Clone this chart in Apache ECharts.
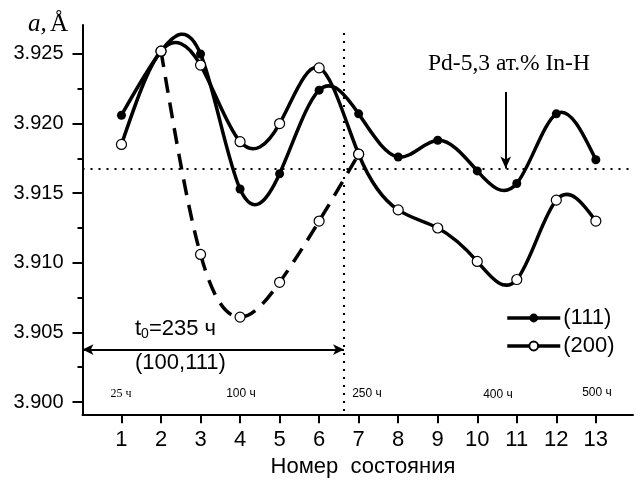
<!DOCTYPE html>
<html><head><meta charset="utf-8">
<script src="https://cdn.jsdelivr.net/npm/echarts@6/dist/echarts.min.js"></script>
<style>html,body{margin:0;padding:0;background:#fff}#c{width:641px;height:484px}</style>
</head><body><div id="c"></div>
<script>
// ---- data ----
const states = [1,2,3,4,5,6,7,8,9,10,11,12,13];
const a111 = [3.9206,3.9252,3.9250,3.9153,3.9164,3.9224,3.9207,3.9176,3.9188,3.9166,3.9157,3.9207,3.9174];
const a200 = [3.9185,3.9252,3.9242,3.9187,3.9200,3.9240,3.9178,3.9138,3.9125,3.9101,3.9088,3.9145,3.9130];
const dashStates = [2,3,4,5,6,7];
const a200dash = [3.9252,3.9106,3.9061,3.9086,3.9130,3.9178];
const yMajor = [3.900,3.905,3.910,3.915,3.920,3.925];
const yMinor = [3.9025,3.9075,3.9125,3.9175,3.9225];
const timeLabels = ['25 ч','100 ч','250 ч','400 ч','500 ч'];
const refLevel = 3.91677;   // horizontal dotted line
const t0State = 6.63;       // vertical dotted line
const arrowLevel = 3.90377; // t0 arrow
const markerState = 10.72;  // Pd arrow
const X_MIN = 0.014, X_MAX = 13.94, Y_MIN = 3.89912, Y_MAX = 3.92708;

const pairs = (xs, ys) => xs.map((x, i) => [x, ys[i]]);

// natural cubic spline through the data points, returned as Bezier segments (data space)
function splineSegments(xs, ys) {
  const n = xs.length;
  const h = [], M = new Array(n).fill(0);
  for (let i = 0; i < n - 1; i++) h.push(xs[i + 1] - xs[i]);
  if (n > 2) {
    const a = [], b = [], c = [], d = [];
    for (let i = 1; i < n - 1; i++) {
      a.push(h[i - 1]); b.push(2 * (h[i - 1] + h[i])); c.push(h[i]);
      d.push(6 * ((ys[i + 1] - ys[i]) / h[i] - (ys[i] - ys[i - 1]) / h[i - 1]));
    }
    const m = b.length;
    for (let i = 1; i < m; i++) {
      const w = a[i] / b[i - 1];
      b[i] -= w * c[i - 1]; d[i] -= w * d[i - 1];
    }
    const sol = new Array(m);
    sol[m - 1] = d[m - 1] / b[m - 1];
    for (let i = m - 2; i >= 0; i--) sol[i] = (d[i] - c[i] * sol[i + 1]) / b[i];
    for (let i = 0; i < m; i++) M[i + 1] = sol[i];
  }
  const segs = [];
  for (let i = 0; i < n - 1; i++) {
    const hh = h[i], s = (ys[i + 1] - ys[i]) / hh;
    const d0 = s - hh * (2 * M[i] + M[i + 1]) / 6;
    const d1 = s + hh * (M[i] + 2 * M[i + 1]) / 6;
    segs.push([[xs[i], ys[i]], [xs[i] + hh / 3, ys[i] + d0 * hh / 3],
               [xs[i + 1] - hh / 3, ys[i + 1] - d1 * hh / 3], [xs[i + 1], ys[i + 1]]]);
  }
  return segs;
}

function curveSeries(xs, ys, dash) {
  const segs = splineSegments(xs, ys);
  return {
    type: 'custom', data: pairs(xs, ys), encode: { x: 0, y: 1 }, z: 2, silent: true,
    renderItem: (params, api) => {
      if (params.dataIndex !== 0) return null;
      let p = api.coord(segs[0][0]);
      let d = 'M' + p[0] + ' ' + p[1];
      segs.forEach(sg => {
        const c1 = api.coord(sg[1]), c2 = api.coord(sg[2]), e = api.coord(sg[3]);
        d += ' C' + c1[0] + ' ' + c1[1] + ' ' + c2[0] + ' ' + c2[1] + ' ' + e[0] + ' ' + e[1];
      });
      return { type: 'path', shape: { pathData: d },
        style: { fill: 'none', stroke: '#000', lineWidth: 3.5, lineDash: dash || null, lineCap: 'butt' } };
    }
  };
}

const chart = echarts.init(document.getElementById('c'));
const sans = 'Liberation Sans, Arial, sans-serif';
const serif = 'Liberation Serif, Times New Roman, serif';

chart.setOption({
  animation: false,
  grid: { left: 82.5, right: 8, top: 25, bottom: 69.7 },
  xAxis: {
    type: 'value', min: X_MIN, max: X_MAX,
    axisLine: { show: true, lineStyle: { color: '#000', width: 2 } },
    axisTick: { show: true, customValues: states, length: 9, lineStyle: { color: '#000', width: 2 } },
    axisLabel: { customValues: states, color: '#000', fontSize: 22, fontFamily: sans, margin: 15 },
    splitLine: { show: false }
  },
  yAxis: [{
    type: 'value', min: Y_MIN, max: Y_MAX,
    axisLine: { show: true, lineStyle: { color: '#000', width: 2 } },
    axisTick: { show: true, customValues: yMajor, length: 10, lineStyle: { color: '#000', width: 2 } },
    axisLabel: { customValues: yMajor, color: '#000', fontSize: 20, fontFamily: sans, margin: 19,
      formatter: v => v.toFixed(3) },
    splitLine: { show: false }
  }, {
    type: 'value', min: Y_MIN, max: Y_MAX, position: 'left',
    axisLine: { show: false },
    axisTick: { show: true, customValues: yMinor, length: 5, lineStyle: { color: '#000', width: 2 } },
    axisLabel: { show: false },
    splitLine: { show: false }
  }],
  legend: {
    data: [
      { name: '(111)', lineStyle: { opacity: 1, width: 3.5, color: '#000' } },
      { name: '(200)', lineStyle: { opacity: 1, width: 3.5, color: '#000' } }
    ],
    orient: 'vertical', left: 505.5, top: 307, padding: 0,
    itemWidth: 53, itemHeight: 11, itemGap: 6,
    textStyle: { fontSize: 22, lineHeight: 22, fontFamily: sans, color: '#000', padding: [0, 0, 0, -2] }
  },
  series: [
    {
      type: 'line', name: 'guides', data: [], silent: true, z: 1,
      markLine: {
        silent: true, symbol: 'none', label: { show: false }, animation: false,
        lineStyle: { color: '#000', width: 2, type: [2, 6] },
        data: [
          [{ coord: [X_MIN, refLevel] }, { coord: [X_MAX, refLevel] }],
          [{ coord: [t0State, 3.92651] }, { coord: [t0State, Y_MIN] }],
          [{ coord: [X_MIN, arrowLevel], symbol: 'arrow', symbolSize: [8, 11], lineStyle: { type: 'solid', width: 2 } },
           { coord: [t0State, arrowLevel], symbol: 'arrow', symbolSize: [8, 11] }],
          [{ coord: [markerState, 3.92227], symbol: 'none', lineStyle: { type: 'solid', width: 2 } },
           { coord: [markerState, refLevel], symbol: 'arrow', symbolSize: [8, 12] }]
        ]
      }
    },
    curveSeries(states, a111),
    curveSeries(states, a200),
    curveSeries(dashStates, a200dash, [16, 10]),
    {
      type: 'line', name: '(111)', data: pairs(states, a111), z: 3,
      symbol: 'circle', symbolSize: 9,
      itemStyle: { color: '#000' }, lineStyle: { color: '#000', width: 3.5, opacity: 0 }
    },
    {
      type: 'line', name: '(200)', data: pairs(states, a200), z: 4,
      symbol: 'circle', symbolSize: 10,
      itemStyle: { color: '#fff', borderColor: '#000', borderWidth: 1.2 },
      lineStyle: { color: '#000', width: 3.5, opacity: 0 }
    },
    {
      type: 'line', name: '(200) quench', data: pairs(dashStates, a200dash), z: 4,
      symbol: 'circle', symbolSize: 10,
      itemStyle: { color: '#fff', borderColor: '#000', borderWidth: 1.2 },
      lineStyle: { color: '#000', width: 3.5, opacity: 0 }
    }
  ],
  graphic: [
    { type: 'text', left: 28, top: 12, style: { text: '{i|a,} {n|Å}', rich: {
        i: { fontFamily: serif, fontStyle: 'italic', fontSize: 25, fill: '#000' },
        n: { fontFamily: serif, fontSize: 25, fill: '#000' } } } },
    { type: 'text', left: 428, top: 52, style: { text: 'Pd-5,3 ат.% In-H', font: '23.5px ' + serif, fill: '#000' } },
    { type: 'text', left: 135, top: 318, style: { text: '{a|t}{s|0}{a|=235 ч}', rich: {
        a: { fontFamily: sans, fontSize: 22, fill: '#000' },
        s: { fontFamily: sans, fontSize: 14, fill: '#000', verticalAlign: 'bottom', padding: [10,0,0,0] } } } },
    { type: 'text', left: 135, top: 352, style: { text: '(100,111)', font: '22px ' + sans, fill: '#000' } },
    { type: 'text', x: 121, y: 394, style: { text: timeLabels[0], font: '12px ' + serif, fill: '#000', align: 'center', verticalAlign: 'middle' } },
    { type: 'text', x: 241, y: 394, style: { text: timeLabels[1], font: '12px ' + sans, fill: '#000', align: 'center', verticalAlign: 'middle' } },
    { type: 'text', x: 367, y: 394, style: { text: timeLabels[2], font: '12px ' + sans, fill: '#000', align: 'center', verticalAlign: 'middle' } },
    { type: 'text', x: 498, y: 395, style: { text: timeLabels[3], font: '12px ' + sans, fill: '#000', align: 'center', verticalAlign: 'middle' } },
    { type: 'text', x: 597, y: 393, style: { text: timeLabels[4], font: '12px ' + sans, fill: '#000', align: 'center', verticalAlign: 'middle' } },
    { type: 'text', x: 363, y: 467, style: { text: 'Номер  состояния', font: '22px ' + sans, fill: '#000', align: 'center', verticalAlign: 'middle' } }
  ]
});
</script></body></html>
